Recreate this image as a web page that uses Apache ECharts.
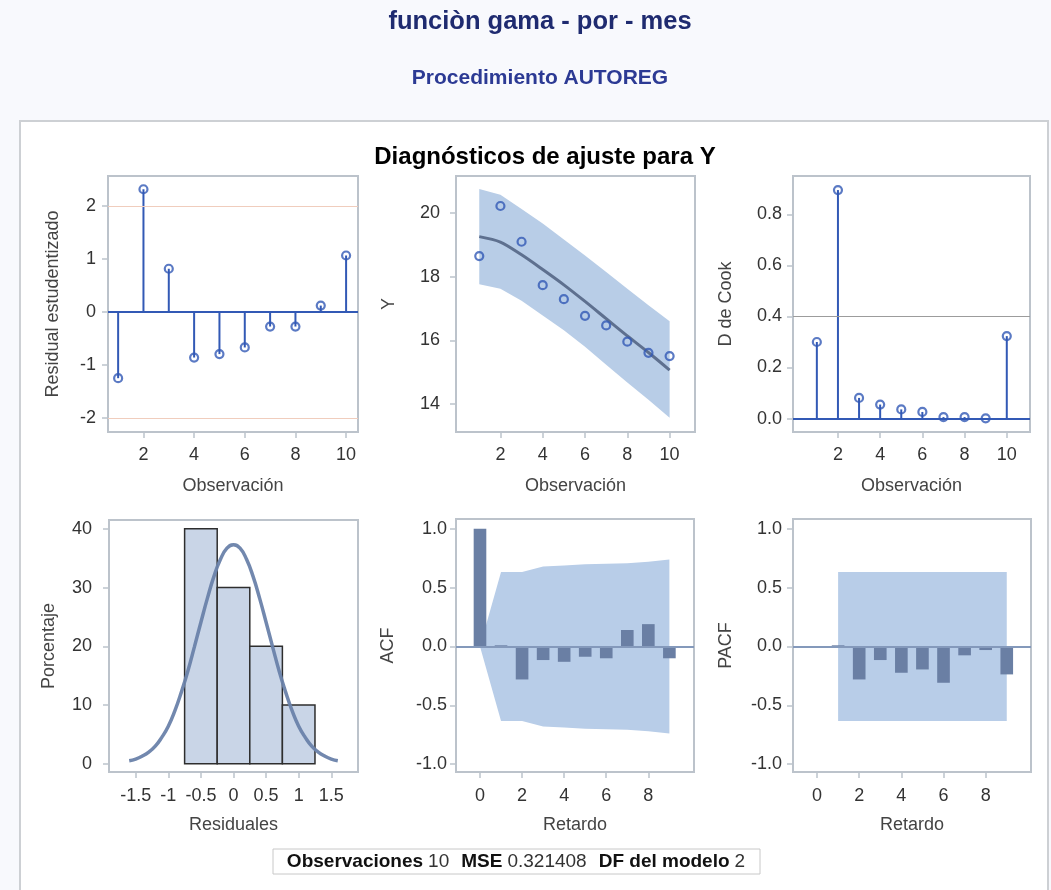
<!DOCTYPE html>
<html>
<head>
<meta charset="utf-8">
<title>funciòn gama - por - mes</title>
<script src="https://cdn.jsdelivr.net/npm/echarts@6/dist/echarts.min.js"></script>
<style>
  html, body { margin: 0; padding: 0; background: #f8f9fd; }
  #chart { width: 1051px; height: 890px; }
</style>
</head>
<body>
<div id="chart"></div>
<script>
// ---- Fit diagnostics data (PROC AUTOREG, 10 observations) ----
const obs = [1, 2, 3, 4, 5, 6, 7, 8, 9, 10];
const studentResid = [-1.245, 2.32, 0.82, -0.855, -0.79, -0.665, -0.27, -0.27, 0.125, 1.07];
const yObserved = [18.64, 20.21, 19.09, 17.73, 17.29, 16.77, 16.47, 15.96, 15.61, 15.51];
const yPredicted = [19.25, 19.08, 18.68, 18.22, 17.74, 17.22, 16.68, 16.14, 15.62, 15.07];
const yUpper = [20.74, 20.56, 20.12, 19.66, 19.16, 18.66, 18.14, 17.62, 17.10, 16.60];
const yLower = [17.76, 17.62, 17.24, 16.78, 16.32, 15.80, 15.24, 14.68, 14.14, 13.58];
const cookD = [0.30, 0.895, 0.081, 0.055, 0.036, 0.026, 0.006, 0.006, 0.001, 0.323];

// residual histogram (bin start, bin end, percent)
const binStart = [-0.75, -0.25, 0.25, 0.75];
const binEnd = [-0.25, 0.25, 0.75, 1.25];
const binPercent = [40, 30, 20, 10];
// normal density overlay, in percent
const curveX = [-1.6, -1.5, -1.4, -1.3, -1.2, -1.1, -1.0, -0.9, -0.8, -0.7, -0.6, -0.5, -0.4, -0.3, -0.2, -0.1, 0.0,
                0.1, 0.2, 0.3, 0.4, 0.5, 0.6, 0.7, 0.8, 0.9, 1.0, 1.1, 1.2, 1.3, 1.4, 1.5, 1.6];
const curveY = [0.5, 0.8, 1.3, 2.0, 3.0, 4.5, 6.4, 9.0, 12.2, 15.8, 19.9, 24.1, 28.2, 31.9, 34.8, 36.7, 37.3,
                36.7, 34.8, 31.9, 28.2, 24.1, 19.9, 15.8, 12.2, 9.0, 6.4, 4.5, 3.0, 2.0, 1.3, 0.8, 0.5];

// autocorrelations
const acfLags = [0, 1, 2, 3, 4, 5, 6, 7, 8, 9];
const acfValues = [1.0, 0.01, -0.28, -0.115, -0.13, -0.087, -0.10, 0.14, 0.19, -0.10];
const acfBandUpper = [0, 0.632, 0.632, 0.680, 0.688, 0.698, 0.702, 0.708, 0.719, 0.738];
const acfBandLower = [0, -0.632, -0.632, -0.680, -0.688, -0.698, -0.702, -0.708, -0.719, -0.738];
const pacfLags = [1, 2, 3, 4, 5, 6, 7, 8, 9];
const pacfValues = [0.01, -0.28, -0.115, -0.223, -0.195, -0.308, -0.075, -0.03, -0.237];
const pacfBandUpper = [0.632, 0.632, 0.632, 0.632, 0.632, 0.632, 0.632, 0.632, 0.632];
const pacfBandLower = [-0.632, -0.632, -0.632, -0.632, -0.632, -0.632, -0.632, -0.632, -0.632];

// tick labels
const obsTicks = [2, 4, 6, 8, 10];
const residTicks = [-2, -1, 0, 1, 2];
const yTicks = [14, 16, 18, 20];
const cookTicks = [0, 0.2, 0.4, 0.6, 0.8];
const histXTicks = [-1.5, -1, -0.5, 0, 0.5, 1, 1.5];
const histYTicks = [0, 10, 20, 30, 40];
const lagTicks = [0, 2, 4, 6, 8];
const corrTicks = [-1, -0.5, 0, 0.5, 1];

const FONT = '"Liberation Sans", Arial, Helvetica, sans-serif';
const BLUE = '#3259b5';
const FRAME = '#bcc3cb';
const LABEL_SIZE = 18;

function xAxis(grid, min, max, ticks, name, margin, nameGap, fmt) {
  return {
    type: 'value', gridIndex: grid, min: min, max: max,
    name: name, nameLocation: 'middle', nameGap: nameGap,
    nameTextStyle: { fontFamily: FONT, fontSize: LABEL_SIZE, color: '#444' },
    axisLine: { show: true, onZero: false, lineStyle: { color: FRAME, width: 2 } },
    axisTick: { show: true, length: 6, customValues: ticks, lineStyle: { color: FRAME, width: 1.5 } },
    axisLabel: { customValues: ticks, margin: margin, fontFamily: FONT, fontSize: LABEL_SIZE, color: '#333',
                 formatter: fmt || (v => String(v)) },
    splitLine: { show: false }
  };
}
function yAxis(grid, min, max, ticks, name, margin, nameGap, fmt) {
  return xAxis(grid, min, max, ticks, name, margin, nameGap, fmt);
}
const oneDec = v => v.toFixed(1);

// vertical stems from zero to each value
function stems(grid, xs, ys) {
  return {
    type: 'custom', xAxisIndex: grid, yAxisIndex: grid, z: 3, silent: true,
    data: xs.map((x, i) => [x, ys[i]]),
    renderItem: (params, api) => {
      const p0 = api.coord([api.value(0), 0]);
      const p1 = api.coord([api.value(0), api.value(1)]);
      return { type: 'line', shape: { x1: p0[0], y1: p0[1], x2: p1[0], y2: p1[1] },
               style: { stroke: BLUE, lineWidth: 2 } };
    }
  };
}
function markers(grid, xs, ys, lines) {
  return {
    type: 'scatter', xAxisIndex: grid, yAxisIndex: grid, z: 4, silent: true,
    symbol: 'circle', symbolSize: 8,
    itemStyle: { color: 'rgba(255,255,255,0)', borderColor: BLUE, borderWidth: 2.2 },
    data: xs.map((x, i) => [x, ys[i]]),
    markLine: lines ? { silent: true, symbol: 'none', label: { show: false }, animation: false,
                        data: lines } : undefined
  };
}
function hline(value, color, width) {
  return { yAxis: value, lineStyle: { color: color, width: width, type: 'solid' } };
}
// shaded band between two lists of values
function band(grid, xs, upper, lower, color) {
  return {
    type: 'custom', xAxisIndex: grid, yAxisIndex: grid, z: 1, silent: true,
    data: [[xs[0], upper[0]]],
    renderItem: (params, api) => {
      const pts = [];
      xs.forEach((x, i) => pts.push(api.coord([x, upper[i]])));
      for (let i = xs.length - 1; i >= 0; i--) pts.push(api.coord([xs[i], lower[i]]));
      return { type: 'polygon', shape: { points: pts }, style: { fill: color } };
    }
  };
}
// correlation bars, centred on the lag
function corrBars(grid, lags, vals, lines) {
  const half = 0.3;
  return {
    type: 'custom', xAxisIndex: grid, yAxisIndex: grid, z: 3, silent: true,
    data: lags.map((l, i) => [l, vals[i]]),
    renderItem: (params, api) => {
      const a = api.coord([api.value(0) - half, api.value(1)]);
      const b = api.coord([api.value(0) + half, 0]);
      return { type: 'rect',
               shape: { x: a[0], y: Math.min(a[1], b[1]), width: b[0] - a[0], height: Math.abs(b[1] - a[1]) },
               style: { fill: '#6a7fa4' } };
    },
    markLine: { silent: true, symbol: 'none', label: { show: false }, animation: false,
                data: lines }
  };
}

const grids = [
  { left: 108, top: 176, width: 250, height: 256 },
  { left: 456, top: 176, width: 239, height: 256 },
  { left: 793, top: 176, width: 237, height: 256 },
  { left: 109, top: 520, width: 249, height: 252 },
  { left: 456, top: 519, width: 238, height: 253 },
  { left: 793, top: 519, width: 238, height: 253 }
].map(g => Object.assign({ show: true, borderColor: FRAME, borderWidth: 2, backgroundColor: '#fff' }, g));

const option = {
  animation: false,
  backgroundColor: '#f8f9fd',
  textStyle: { fontFamily: FONT },
  title: [
    { text: 'funciòn gama - por - mes', left: 535, top: 4, textAlign: 'center',
      textStyle: { fontFamily: FONT, fontSize: 25.5, fontWeight: 'bold', color: '#1f2b70' } },
    { text: 'Procedimiento AUTOREG', left: 535, top: 63, textAlign: 'center',
      textStyle: { fontFamily: FONT, fontSize: 21, fontWeight: 'bold', color: '#2c3a94' } },
    { text: 'Diagnósticos de ajuste para Y', left: 540, top: 140, textAlign: 'center',
      textStyle: { fontFamily: FONT, fontSize: 24, fontWeight: 'bold', color: '#000' } }
  ],
  graphic: [
    { type: 'rect', z: -10, shape: { x: 20, y: 121, width: 1028, height: 800 },
      style: { fill: '#fff', stroke: '#cdd0d4', lineWidth: 2 } },
    { type: 'rect', z: 10, shape: { x: 273, y: 849, width: 487, height: 25 },
      style: { fill: '#fff', stroke: '#c8c8c8', lineWidth: 1 } },
    { type: 'text', z: 11, x: 516, y: 862,
      style: {
        text: '{b|Observaciones}{n|10}{b|MSE}{n|0.321408}{b|DF del modelo}{e|2}',
        align: 'center', verticalAlign: 'middle',
        rich: {
          b: { fontFamily: FONT, fontSize: 19, fontWeight: 'bold', fill: '#111', color: '#111',
               padding: [0, 5, 0, 0] },
          n: { fontFamily: FONT, fontSize: 19, fill: '#333', color: '#333', padding: [0, 12, 0, 0] },
          e: { fontFamily: FONT, fontSize: 19, fill: '#333', color: '#333' }
        }
      } }
  ],
  grid: grids,
  xAxis: [
    xAxis(0, 0.6, 10.47, obsTicks, 'Observación', 14, 45),
    xAxis(1, -0.1, 11.2, obsTicks, 'Observación', 14, 45),
    xAxis(2, -0.13, 11.1, obsTicks, 'Observación', 14, 45),
    xAxis(3, -1.91, 1.91, histXTicks, 'Residuales', 15, 44),
    xAxis(4, -1.14, 10.17, lagTicks, 'Retardo', 15, 44),
    xAxis(5, -1.14, 10.15, lagTicks, 'Retardo', 15, 44)
  ],
  yAxis: [
    yAxis(0, -2.26, 2.57, residTicks, 'Residual estudentizado', 12, 46),
    yAxis(1, 13.13, 21.15, yTicks, 'Y', 16, 58),
    yAxis(2, -0.0525, 0.95, cookTicks, 'D de Cook', 11, 58, oneDec),
    yAxis(3, -1.4, 41.5, histYTicks, 'Porcentaje', 17, 51),
    yAxis(4, -1.066, 1.083, corrTicks, 'ACF', 9, 59, oneDec),
    yAxis(5, -1.066, 1.083, corrTicks, 'PACF', 11, 58, oneDec)
  ],
  series: [
    // studentized residuals
    stems(0, obs, studentResid),
    markers(0, obs, studentResid, [hline(2, '#f0cdbd', 1), hline(-2, '#f0cdbd', 1), hline(0, BLUE, 2)]),

    // observed vs predicted with prediction band
    band(1, obs, yUpper, yLower, '#b8cde7'),
    { type: 'line', xAxisIndex: 1, yAxisIndex: 1, z: 2, silent: true, smooth: 0.3,
      showSymbol: false, lineStyle: { color: '#5e708f', width: 3 },
      data: obs.map((x, i) => [x, yPredicted[i]]) },
    markers(1, obs, yObserved),

    // Cook's D
    stems(2, obs, cookD),
    markers(2, obs, cookD, [hline(0.4, '#9c9c9c', 1), hline(0, BLUE, 2)]),

    // residual histogram with normal curve
    { type: 'custom', xAxisIndex: 3, yAxisIndex: 3, z: 2, silent: true,
      data: binStart.map((s, i) => [s, binEnd[i], binPercent[i]]),
      renderItem: (params, api) => {
        const a = api.coord([api.value(0), api.value(2)]);
        const b = api.coord([api.value(1), 0]);
        return { type: 'rect', shape: { x: a[0], y: a[1], width: b[0] - a[0], height: b[1] - a[1] },
                 style: { fill: '#c9d5e7', stroke: '#2e2e2e', lineWidth: 1.5 } };
      } },
    { type: 'line', xAxisIndex: 3, yAxisIndex: 3, z: 3, silent: true, smooth: true,
      showSymbol: false, lineStyle: { color: '#6a82aa', width: 3.5, opacity: 0.95 },
      data: curveX.map((x, i) => [x, curveY[i]]) },

    // ACF
    band(4, acfLags, acfBandUpper, acfBandLower, '#b8cde8'),
    corrBars(4, acfLags, acfValues, [hline(0, '#8499bb', 2)]),

    // PACF
    band(5, pacfLags, pacfBandUpper, pacfBandLower, '#b8cde8'),
    corrBars(5, pacfLags, pacfValues, [hline(0, '#8499bb', 2)])
  ]
};

const chart = echarts.init(document.getElementById('chart'), null, { renderer: 'canvas' });
chart.setOption(option);
</script>
</body>
</html>
